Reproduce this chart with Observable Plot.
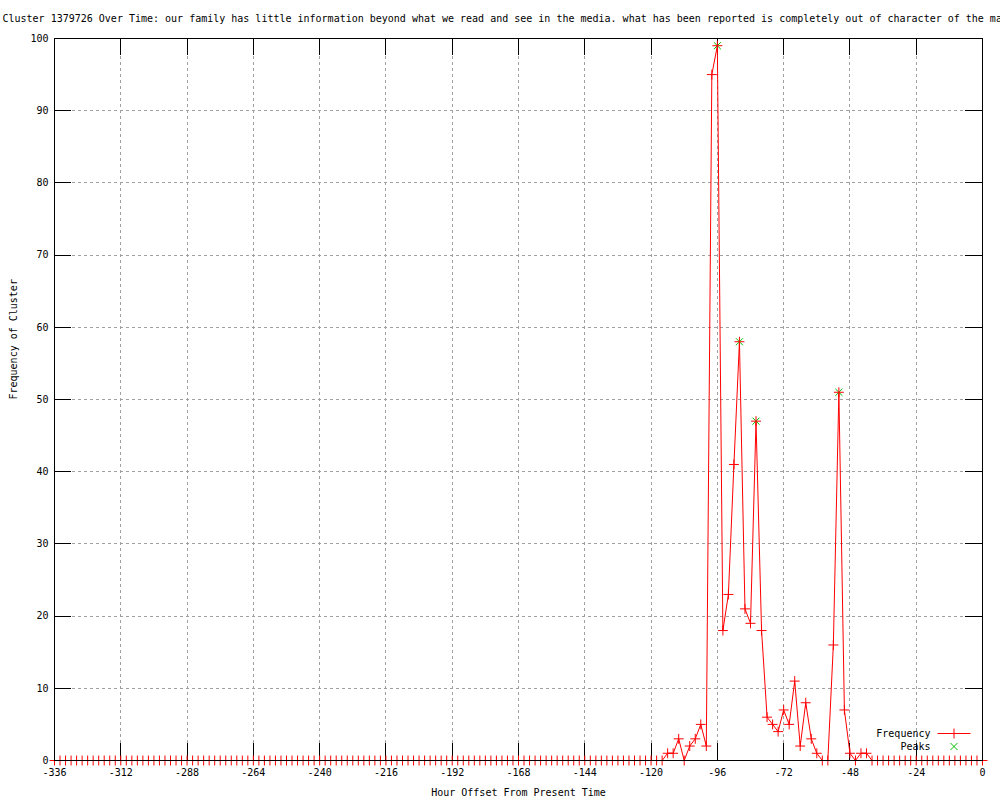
<!DOCTYPE html>
<html><head><meta charset="utf-8">
<script src="https://cdn.jsdelivr.net/npm/d3@7"></script>
<script src="https://cdn.jsdelivr.net/npm/@observablehq/plot@0.6"></script>
<style>body{margin:0;background:#fff;} #chart svg{display:block;}</style>
</head><body><div id="chart"></div>
<script>
const titleText = "Cluster 1379726 Over Time: our family has little information beyond what we read and see in the media. what has been reported is completely out of character of the man";
const xLabel = "Hour Offset From Present Time";
const yLabel = "Frequency of Cluster";
const seriesName = "Frequency";
const peakName = "Peaks";

const hours = [
  -336,-334,-332,-330,-328,-326,-324,-322,-320,-318,-316,-314,
  -312,-310,-308,-306,-304,-302,-300,-298,-296,-294,-292,-290,
  -288,-286,-284,-282,-280,-278,-276,-274,-272,-270,-268,-266,
  -264,-262,-260,-258,-256,-254,-252,-250,-248,-246,-244,-242,
  -240,-238,-236,-234,-232,-230,-228,-226,-224,-222,-220,-218,
  -216,-214,-212,-210,-208,-206,-204,-202,-200,-198,-196,-194,
  -192,-190,-188,-186,-184,-182,-180,-178,-176,-174,-172,-170,
  -168,-166,-164,-162,-160,-158,-156,-154,-152,-150,-148,-146,
  -144,-142,-140,-138,-136,-134,-132,-130,-128,-126,-124,-122,
  -120,-118,-116,-114,-112,-110,-108,-106,-104,-102,-100,-98,
  -96,-94,-92,-90,-88,-86,-84,-82,-80,-78,-76,-74,
  -72,-70,-68,-66,-64,-62,-60,-58,-56,-54,-52,-50,
  -48,-46,-44,-42,-40,-38,-36,-34,-32,-30,-28,-26,
  -24,-22,-20,-18,-16,-14,-12,-10,-8,-6,-4,-2,
  0
];
const frequency = [
  0,0,0,0,0,0,0,0,0,0,0,0,
  0,0,0,0,0,0,0,0,0,0,0,0,
  0,0,0,0,0,0,0,0,0,0,0,0,
  0,0,0,0,0,0,0,0,0,0,0,0,
  0,0,0,0,0,0,0,0,0,0,0,0,
  0,0,0,0,0,0,0,0,0,0,0,0,
  0,0,0,0,0,0,0,0,0,0,0,0,
  0,0,0,0,0,0,0,0,0,0,0,0,
  0,0,0,0,0,0,0,0,0,0,0,0,
  0,0,0,1,1,3,0,2,3,5,2,95,
  99,18,23,41,58,21,19,47,18,6,5,4,
  7,5,11,2,8,3,1,0,0,16,51,7,
  1,0,1,1,0,0,0,0,0,0,0,0,
  0,0,0,0,0,0,0,0,0,0,0,0,
  0
];
const peakHours = [-96, -88, -82, -52];
const peakValues = [99, 58, 47, 51];
const xTicks = [-336,-312,-288,-264,-240,-216,-192,-168,-144,-120,-96,-72,-48,-24,0];
const yTicks = [0,10,20,30,40,50,60,70,80,90,100];

const data = hours.map((h, i) => ({hour: h, freq: frequency[i]}));
const peaks = peakHours.map((h, i) => ({hour: h, freq: peakValues[i]}));

const RED = "#ff0000", GREEN = "#00c000", GRID = "#a0a0a0";
const hLine = {draw(ctx) { ctx.moveTo(-16.5, 0); ctx.lineTo(16.5, 0); }};

const chart = Plot.plot({
  width: 1000, height: 800,
  marginTop: 38, marginLeft: 54, marginRight: 18, marginBottom: 40,
  style: {fontFamily: "'DejaVu Sans Mono', monospace", fontSize: "10px", background: "#fff", color: "#000", overflow: "hidden"},
  x: {domain: [-336, 0]},
  y: {domain: [0, 100]},
  marks: [
    Plot.ruleX(xTicks, {x: d => d, stroke: GRID, strokeOpacity: 1, strokeDasharray: "3,3", shapeRendering: "crispEdges"}),
    Plot.ruleY(yTicks, {y: d => d, stroke: GRID, strokeOpacity: 1, strokeDasharray: "3,3", shapeRendering: "crispEdges"}),
    Plot.tickX(xTicks, {x: d => d, insetTop: 705, stroke: "#000", shapeRendering: "crispEdges"}),
    Plot.tickX(xTicks, {x: d => d, insetBottom: 705, stroke: "#000", shapeRendering: "crispEdges"}),
    Plot.tickY(yTicks, {y: d => d, insetRight: 911, stroke: "#000", shapeRendering: "crispEdges"}),
    Plot.tickY(yTicks, {y: d => d, insetLeft: 911, stroke: "#000", shapeRendering: "crispEdges"}),
    Plot.line(data, {x: "hour", y: "freq", stroke: RED, strokeWidth: 1, clip: false}),
    Plot.dot(peaks, {x: "hour", y: "freq", symbol: "times", r: 3.3, stroke: GREEN, strokeWidth: 1}),
    Plot.dot(data, {x: "hour", y: "freq", symbol: "plus", r: 3.3, stroke: RED, strokeWidth: 1}),
    Plot.frame({stroke: "#000", shapeRendering: "crispEdges"}),
    Plot.axisX({ticks: xTicks, tickSize: 0, tickPadding: 8, tickFormat: d => String(d), label: null}),
    Plot.axisY({ticks: yTicks, tickSize: 0, tickPadding: 6, tickFormat: d => String(d), label: null}),
    Plot.text([titleText], {text: d => d, frameAnchor: "top-left", dx: -52, dy: -20, textAnchor: "start", lineAnchor: "middle"}),
    Plot.text([xLabel], {text: d => d, frameAnchor: "bottom", dy: 32, lineAnchor: "middle"}),
    Plot.text([yLabel], {text: d => d, frameAnchor: "left", dx: -41, rotate: -90, lineAnchor: "middle"}),
    Plot.text([seriesName], {text: d => d, frameAnchor: "bottom-right", dx: -52, dy: -27, textAnchor: "end", lineAnchor: "middle"}),
    Plot.text([peakName], {text: d => d, frameAnchor: "bottom-right", dx: -52, dy: -14, textAnchor: "end", lineAnchor: "middle"}),
    Plot.dot([seriesName], {frameAnchor: "bottom-right", dx: -28.5, dy: -27, symbol: hLine, fill: "none", stroke: RED, strokeWidth: 1}),
    Plot.dot([seriesName], {frameAnchor: "bottom-right", dx: -28.5, dy: -27, symbol: "plus", r: 3.3, stroke: RED, strokeWidth: 1}),
    Plot.dot([peakName], {frameAnchor: "bottom-right", dx: -28.5, dy: -14, symbol: "times", r: 3.3, stroke: GREEN, strokeWidth: 1})
  ]
});
document.getElementById("chart").appendChild(chart);
</script>
</body></html>
